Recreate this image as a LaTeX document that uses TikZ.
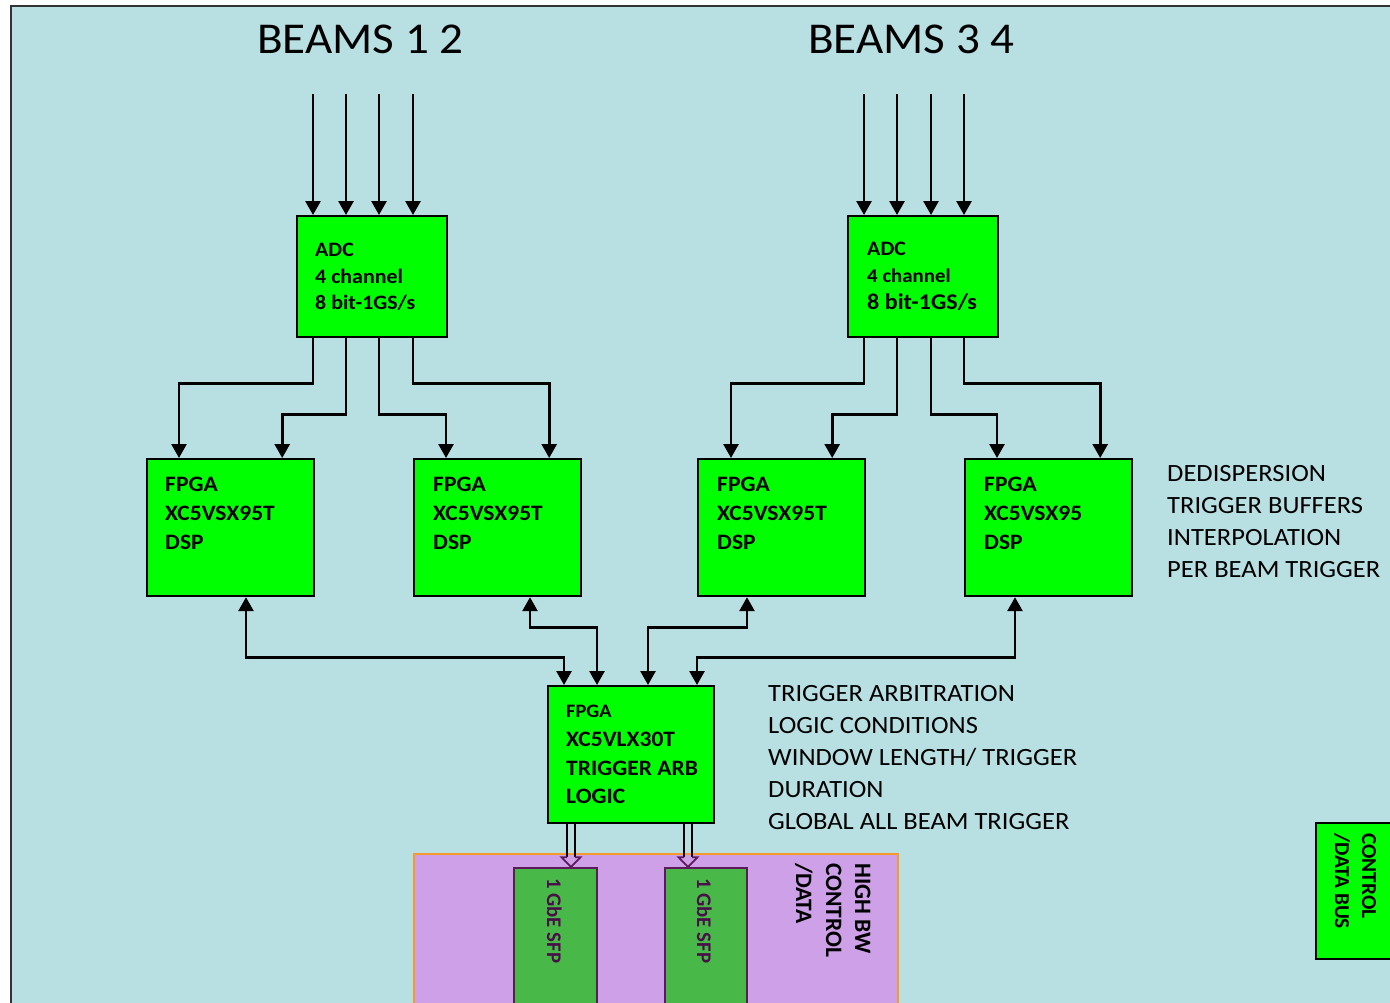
\documentclass[tikz,border=0pt]{standalone}
\usepackage{fontspec}
\setmainfont{Carlito}[FakeStretch=1.07]
\newfontfamily\rotfont{Carlito}
\usetikzlibrary{arrows.meta}
\definecolor{bgc}{HTML}{B8DFE2}
\definecolor{edgec}{HTML}{333333}
\definecolor{boxg}{HTML}{00FF00}
\definecolor{purf}{HTML}{CDA0E8}
\definecolor{orng}{HTML}{F79A2E}
\definecolor{sfpg}{HTML}{48B848}
\definecolor{sfpb}{HTML}{5C1A5C}
\definecolor{sfpt}{HTML}{4A0F4A}
\tikzset{
  gbox/.style={draw=black, line width=2.2pt, fill=boxg, inner sep=0pt, anchor=north west},
  tb/.style={anchor=base west, inner sep=0pt, font=\bfseries\fontsize{22}{26}\selectfont},
  tr/.style={anchor=base west, inner sep=0pt, font=\fontsize{24.8}{29}\selectfont},
  rt/.style={anchor=base west, inner sep=0pt, rotate=-90},
  arr/.style={line width=2.7pt, -{Triangle[width=15pt,length=14pt]}},
  biarr/.style={line width=2.7pt, {Triangle[width=15pt,length=14pt]}-{Triangle[width=15pt,length=14pt]}},
  hshaft/.style={line width=1.8pt, black},
  hhead/.style={line width=1.8pt, draw=sfpb, fill=purf, line join=miter}
}
\begin{document}
\begin{tikzpicture}[x=1pt,y=-1pt]
\useasboundingbox (0,0) rectangle (1390,1002);
\clip (0,0) rectangle (1390,1002);
% background panel
\fill[bgc] (11,6) rectangle (1395,1010);
\draw[edgec, line width=1.6pt] (11,1010) -- (11,6) -- (1395,6);

% titles
\node[anchor=base west, inner sep=0pt, font=\fontsize{44}{50}\selectfont] (t12) at (257,53) {BEAMS 1 2};
\node[anchor=base west, inner sep=0pt, font=\fontsize{44}{50}\selectfont] (t34) at (808,53) {BEAMS 3 4};

% ADC boxes
\node[gbox, minimum width=150pt, minimum height=121pt] (adcL) at (296,215) {};
\node[gbox, minimum width=150pt, minimum height=121pt] (adcR) at (847,215) {};
\node[tb, font=\bfseries\fontsize{20.5}{24}\selectfont] (adcL1) at (315,256) {ADC};
\node[tb, font=\bfseries\fontsize{20.5}{24}\selectfont] (adcL2) at (315,283) {4 channel};
\node[tb, font=\bfseries\fontsize{20.5}{24}\selectfont] (adcL3) at (315,309) {8 bit-1GS/s};
\node[tb, font=\bfseries\fontsize{20.5}{24}\selectfont] (adcR1) at (867,255) {ADC};
\node[tb, font=\bfseries\fontsize{19.5}{24}\selectfont] (adcR2) at (867,282) {4 channel};
\node[tb, font=\bfseries\fontsize{22.5}{24}\selectfont] (adcR3) at (867,309) {8 bit-1GS/s};

% input arrows
\coordinate (iL1) at (313,94); \coordinate (iL2) at (346,94);
\coordinate (iL3) at (379,94); \coordinate (iL4) at (413,94);
\coordinate (iR1) at (864,94); \coordinate (iR2) at (897,94);
\coordinate (iR3) at (931,94); \coordinate (iR4) at (964,94);
\foreach \c in {iL1,iL2,iL3,iL4} \draw[arr] (\c) -- (\c |- adcL.north);
\foreach \c in {iR1,iR2,iR3,iR4} \draw[arr] (\c) -- (\c |- adcR.north);

% FPGA DSP boxes
\node[gbox, minimum width=167pt, minimum height=137pt] (fp1) at (146,458) {};
\node[gbox, minimum width=167pt, minimum height=137pt] (fp2) at (413,458) {};
\node[gbox, minimum width=167pt, minimum height=137pt] (fp3) at (697,458) {};
\node[gbox, minimum width=167pt, minimum height=137pt] (fp4) at (964,458) {};
\node[tb] (fp1a) at (165,491) {FPGA};
\node[tb] (fp1b) at (165,520) {XC5VSX95T};
\node[tb] (fp1c) at (165,549) {DSP};
\node[tb] (fp2a) at (433,491) {FPGA};
\node[tb] (fp2b) at (433,520) {XC5VSX95T};
\node[tb] (fp2c) at (433,549) {DSP};
\node[tb] (fp3a) at (717,491) {FPGA};
\node[tb] (fp3b) at (717,520) {XC5VSX95T};
\node[tb] (fp3c) at (717,549) {DSP};
\node[tb] (fp4a) at (984,491) {FPGA};
\node[tb] (fp4b) at (984,520) {XC5VSX95};
\node[tb] (fp4c) at (984,549) {DSP};

% ADC -> FPGA connectors
\draw[arr] ([xshift=17pt]adcL.south west) -- ++(0,45) -| ([xshift=33pt]fp1.north west);
\draw[arr] ([xshift=50pt]adcL.south west) -- ++(0,76) -| ([xshift=-33pt]fp1.north east);
\draw[arr] ([xshift=83pt]adcL.south west) -- ++(0,76) -| ([xshift=33pt]fp2.north west);
\draw[arr] ([xshift=117pt]adcL.south west) -- ++(0,45) -| ([xshift=-33pt]fp2.north east);
\draw[arr] ([xshift=17pt]adcR.south west) -- ++(0,45) -| ([xshift=34pt]fp3.north west);
\draw[arr] ([xshift=50pt]adcR.south west) -- ++(0,76) -| ([xshift=-34pt]fp3.north east);
\draw[arr] ([xshift=84pt]adcR.south west) -- ++(0,76) -| ([xshift=33pt]fp4.north west);
\draw[arr] ([xshift=117pt]adcR.south west) -- ++(0,45) -| ([xshift=-33pt]fp4.north east);

% trigger arbitration box
\node[gbox, minimum width=166pt, minimum height=137pt] (trig) at (547,685) {};
\node[tb, font=\bfseries\fontsize{19}{24}\selectfont] (tg1) at (566,717) {FPGA};
\node[tb] (tg2) at (566,746) {XC5VLX30T};
\node[tb] (tg3) at (566,775) {TRIGGER ARB};
\node[tb] (tg4) at (566,803) {LOGIC};

% FPGA <-> trigger connectors
\draw[biarr] ([xshift=100pt]fp1.south west) -- ++(0,60) -| ([xshift=17pt]trig.north west);
\draw[biarr] ([xshift=117pt]fp2.south west) -- ++(0,30) -| ([xshift=50pt]trig.north west);
\draw[biarr] ([xshift=50pt]fp3.south west) -- ++(0,30) -| ([xshift=101pt]trig.north west);
\draw[biarr] ([xshift=51pt]fp4.south west) -- ++(0,60) -| ([xshift=150pt]trig.north west);

% side texts
\node[tr] (d1) at (1167,481) {DEDISPERSION};
\node[tr] (d2) at (1167,513) {TRIGGER BUFFERS};
\node[tr] (d3) at (1167,545) {INTERPOLATION};
\node[tr] (d4) at (1167,577) {PER BEAM TRIGGER};
\node[tr] (a1) at (768,701) {TRIGGER ARBITRATION};
\node[tr] (a2) at (768,733) {LOGIC CONDITIONS};
\node[tr] (a3) at (768,765) {WINDOW LENGTH/ TRIGGER};
\node[tr] (a4) at (768,797) {DURATION};
\node[tr] (a5) at (768,829) {GLOBAL ALL BEAM TRIGGER};

% high bandwidth control/data block
\node[draw=orng, line width=2pt, fill=purf, inner sep=0pt, anchor=north west,
      minimum width=484pt, minimum height=170pt] (hbw) at (413,853) {};
\node[draw=sfpb, line width=2pt, fill=sfpg, inner sep=0pt, anchor=north west,
      minimum width=83pt, minimum height=150pt] (sfp1) at (513,867) {};
\node[draw=sfpb, line width=2pt, fill=sfpg, inner sep=0pt, anchor=north west,
      minimum width=82pt, minimum height=150pt] (sfp2) at (664,867) {};
\node[rt, text=sfpt, font=\rotfont\bfseries\fontsize{20.8}{24}\selectfont] (s1t) at (547,878) {1 GbE SFP};
\node[rt, text=sfpt, font=\rotfont\bfseries\fontsize{20.8}{24}\selectfont] (s2t) at (697,878) {1 GbE SFP};
\node[rt, font=\rotfont\bfseries\fontsize{23.5}{26}\selectfont] (h1) at (855,863) {HIGH BW};
\node[rt, font=\rotfont\bfseries\fontsize{23.5}{26}\selectfont] (h2) at (826,863) {CONTROL};
\node[rt, font=\rotfont\bfseries\fontsize{23.5}{26}\selectfont] (h3) at (796,863) {/DATA};

% hollow arrows trigger -> SFP
\coordinate (ha) at ([xshift=24pt]trig.south west);
\coordinate (hb) at ([xshift=141pt]trig.south west);
\foreach \h/\s in {ha/sfp1, hb/sfp2} {
  \draw[hshaft] ([xshift=-4pt]\h) -- ([xshift=-4pt,yshift=-33pt]\h);
  \draw[hshaft] ([xshift=4pt]\h) -- ([xshift=4pt,yshift=-33pt]\h);
  \draw[hhead] ([xshift=-4pt,yshift=-33pt]\h) -- ([xshift=-9.5pt,yshift=-33pt]\h)
     -- (\h |- \s.north) -- ([xshift=9.5pt,yshift=-33pt]\h) -- ([xshift=4pt,yshift=-33pt]\h);
}

% control / data bus
\node[gbox, minimum width=80pt, minimum height=136pt] (bus) at (1315,822) {};
\node[rt, font=\rotfont\bfseries\fontsize{21.3}{24}\selectfont] (b1) at (1362,833) {CONTROL};
\node[rt, font=\rotfont\bfseries\fontsize{21.3}{24}\selectfont] (b2) at (1335,833) {/DATA BUS};
\end{tikzpicture}
\end{document}
